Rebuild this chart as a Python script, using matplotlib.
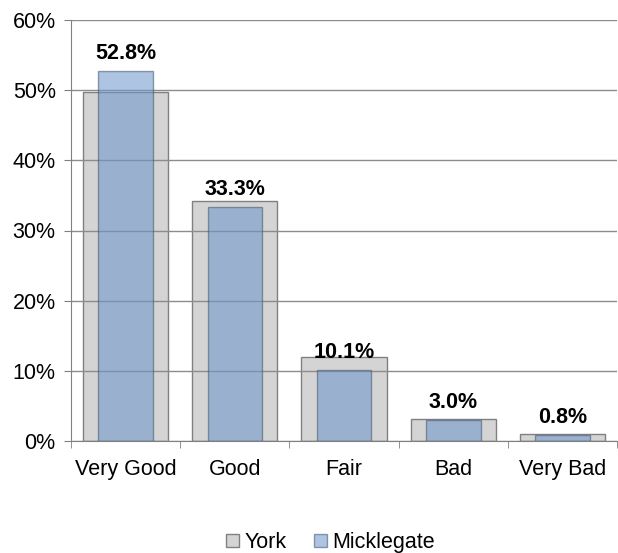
import matplotlib.pyplot as plt
import numpy as np

plt.rcParams['font.family'] = ['Liberation Sans', 'DejaVu Sans']

categories = ['Very Good', 'Good', 'Fair', 'Bad', 'Very Bad']
york = [49.7, 34.2, 12.0, 3.2, 1.0]
micklegate = [52.8, 33.3, 10.1, 3.0, 0.8]

fig = plt.figure(figsize=(6.18, 5.53), dpi=100)
ax = fig.add_axes([71/618, 1 - 441/553, 546/618, 421/553])

x = np.arange(len(categories))
ax.bar(x, york, width=0.78, color='#d4d4d4', edgecolor='#808080', linewidth=1, label='York', zorder=2)
ax.bar(x, micklegate, width=0.5, color='#6a94cc', alpha=0.55, edgecolor='#3f526b', linewidth=1,
       label='Micklegate', zorder=3)

for xi, v in zip(x, micklegate):
    ax.annotate(f'{v:.1f}%', (xi, v), xytext=(0, 5), textcoords='offset points',
                ha='center', va='bottom', fontsize=15.5, fontweight='bold', zorder=5)

ax.set_xlim(-0.5, len(categories) - 0.5)
ax.set_ylim(0, 60)
ax.set_yticks(range(0, 61, 10))
ax.set_yticklabels([f'{t}%' for t in range(0, 61, 10)], fontsize=15.5)
ax.set_xticks(x)
ax.set_xticklabels(categories, fontsize=15.5)
ax.set_xticks(np.arange(-0.5, len(categories)), minor=True)
ax.tick_params(axis='x', which='major', length=0, pad=13)
ax.tick_params(axis='x', which='minor', length=5, color='#808080')
ax.tick_params(axis='y', length=5, color='#808080', pad=6)

ax.yaxis.grid(True, color='#8c8c8c', linewidth=1, zorder=4)
ax.set_axisbelow(False)
for s in ['top', 'right']:
    ax.spines[s].set_visible(False)
for s in ['left', 'bottom']:
    ax.spines[s].set_color('#808080')

fig.legend(loc='lower center', bbox_to_anchor=(0.535, -0.035), ncol=2, frameon=False, fontsize=15.5,
           handlelength=0.6, handleheight=0.6, handletextpad=0.25, columnspacing=1.3)

fig.savefig('out.png', dpi=100)
